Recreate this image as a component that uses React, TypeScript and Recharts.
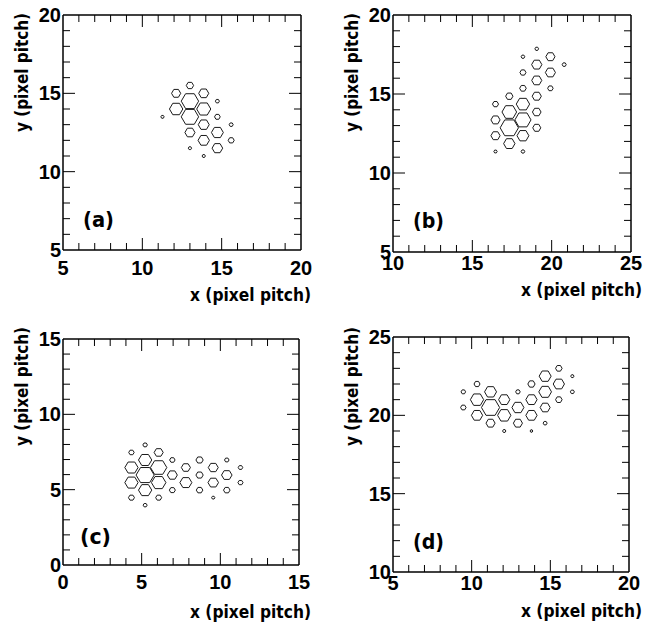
import React from 'react';
import { ScatterChart, Scatter, XAxis, YAxis, Customized } from 'recharts';

// ---- Panel (a): pixel centres (x, y) and relative charge (hexagon size)
const aX = [11.27, 12.13, 12.13, 13.0, 13.0, 13.0, 13.0, 13.0, 13.87, 13.87, 13.87, 13.87, 13.87, 14.73, 14.73, 14.73, 14.73, 15.6, 15.6];
const aY = [13.5, 15, 14, 15.5, 14.5, 13.5, 12.5, 11.5, 15, 14, 13, 12, 11, 14.5, 13.5, 12.5, 11.5, 13, 12];
const aQ = [0.18, 0.5, 0.73, 0.4, 0.95, 0.95, 0.55, 0.18, 0.55, 0.77, 0.6, 0.62, 0.18, 0.22, 0.31, 0.65, 0.58, 0.22, 0.33];

// ---- Panel (b)
const bX = [16.46, 16.46, 16.46, 16.46, 17.33, 17.33, 17.33, 17.33, 18.19, 18.19, 18.19, 18.19, 18.19, 18.19, 18.19, 19.06, 19.06, 19.06, 19.06, 19.06, 19.06, 19.92, 19.92, 19.92, 20.79];
const bY = [11.36, 12.36, 13.36, 14.36, 11.86, 12.86, 13.86, 14.86, 11.36, 12.36, 13.36, 14.36, 15.36, 16.36, 17.36, 12.86, 13.86, 14.86, 15.86, 16.86, 17.86, 15.36, 16.36, 17.36, 16.86];
const bQ = [0.18, 0.5, 0.5, 0.33, 0.62, 1.0, 0.8, 0.4, 0.2, 0.65, 0.88, 0.73, 0.36, 0.33, 0.2, 0.44, 0.47, 0.5, 0.55, 0.56, 0.2, 0.3, 0.55, 0.5, 0.22];

// ---- Panel (c)
const cX = [4.35, 4.35, 4.35, 4.35, 5.22, 5.22, 5.22, 5.22, 5.22, 6.08, 6.08, 6.08, 6.08, 6.95, 6.95, 6.95, 7.81, 7.81, 8.68, 8.68, 8.68, 9.55, 9.55, 9.55, 10.41, 10.41, 10.41, 11.28, 11.28];
const cY = [7.47, 6.47, 5.47, 4.47, 7.97, 6.97, 5.97, 4.97, 3.97, 7.47, 6.47, 5.47, 4.47, 6.97, 5.97, 4.97, 6.47, 5.47, 6.97, 5.97, 4.97, 6.47, 5.47, 4.47, 6.97, 5.97, 4.97, 6.47, 5.47];
const cQ = [0.3, 0.73, 0.73, 0.33, 0.25, 0.73, 1.0, 0.73, 0.22, 0.5, 0.9, 0.8, 0.33, 0.3, 0.55, 0.33, 0.5, 0.66, 0.4, 0.4, 0.36, 0.55, 0.58, 0.18, 0.25, 0.58, 0.36, 0.25, 0.28];

// ---- Panel (d)
const dX = [9.47, 9.47, 10.34, 10.34, 10.34, 11.2, 11.2, 11.2, 12.07, 12.07, 12.07, 12.94, 12.94, 12.94, 13.8, 13.8, 13.8, 13.8, 14.67, 14.67, 14.67, 14.67, 15.54, 15.54, 15.54, 16.4, 16.4];
const dY = [21.5, 20.5, 22, 21, 20, 21.5, 20.5, 19.5, 21, 20, 19, 21.5, 20.5, 19.5, 22, 21, 20, 19, 22.5, 21.5, 20.5, 19.5, 23, 22, 21, 22.5, 21.5];
const dQ = [0.25, 0.3, 0.33, 0.73, 0.62, 0.66, 1.0, 0.5, 0.62, 0.73, 0.18, 0.25, 0.66, 0.5, 0.4, 0.62, 0.62, 0.15, 0.66, 0.7, 0.55, 0.22, 0.36, 0.62, 0.36, 0.18, 0.22];

const aDomX = [5, 20];
const aDomY = [5, 20];
const bDomX = [10, 25];
const bDomY = [5, 20];
const cDomX = [0, 15];
const cDomY = [0, 15];
const dDomX = [5, 20];
const dDomY = [10, 25];

const letters = ['(a)', '(b)', '(c)', '(d)'];
const xTitle = 'x (pixel pitch)';
const yTitle = 'y (pixel pitch)';

const build = (xs: number[], ys: number[], qs: number[]) => xs.map((x, i) => ({ x, y: ys[i], q: qs[i] }));
const intTicks = (d: number[]) => {
  const out: number[] = [];
  for (let v = d[0]; v <= d[1]; v++) out.push(v);
  return out;
};

const TICK_FONT = "'Liberation Sans', Arial, Helvetica, sans-serif";
const TITLE_FONT = "'DejaVu Sans', Verdana, sans-serif";

type Panel = {
  data: { x: number; y: number; q: number }[];
  domX: number[];
  domY: number[];
  letter: string;
  left: number;
  top: number;
  width: number;
  height: number;
  margin: { top: number; right: number; bottom: number; left: number };
  labelDy: number;
  titleDx: number;
  titleDy: number;
  yTitleDy: number;
  letterDx: number;
  letterDy: number;
};

const panels: Panel[] = [
  { data: build(aX, aY, aQ), domX: aDomX, domY: aDomY, letter: letters[0], left: 0, top: 0, width: 330, height: 312,
    margin: { top: 15, right: 29, bottom: 62, left: 63 }, labelDy: 25, titleDx: 10, titleDy: 51, yTitleDy: -2, letterDx: 20, letterDy: -23 },
  { data: build(bX, bY, bQ), domX: bDomX, domY: bDomY, letter: letters[1], left: 330, top: 0, width: 321, height: 312,
    margin: { top: 15, right: 20, bottom: 60, left: 63 }, labelDy: 18, titleDx: 11, titleDy: 44, yTitleDy: -2, letterDx: 20, letterDy: -24 },
  { data: build(cX, cY, cQ), domX: cDomX, domY: cDomY, letter: letters[2], left: 0, top: 314, width: 330, height: 310,
    margin: { top: 25, right: 31, bottom: 59, left: 63 }, labelDy: 24, titleDx: 12, titleDy: 53, yTitleDy: -12, letterDx: 17, letterDy: -21 },
  { data: build(dX, dY, dQ), domX: dDomX, domY: dDomY, letter: letters[3], left: 330, top: 314, width: 321, height: 310,
    margin: { top: 23, right: 22, bottom: 52, left: 63 }, labelDy: 18, titleDx: 13, titleDy: 45, yTitleDy: -10, letterDx: 20, letterDy: -23 },
];

const PanelChart = ({ p }: { p: Panel }) => {
  const plotL = p.margin.left;
  const plotR = p.width - p.margin.right;
  const plotT = p.margin.top;
  const plotB = p.height - p.margin.bottom;
  const ppuX = (plotR - plotL) / (p.domX[1] - p.domX[0]);
  const ppuY = (plotB - plotT) / (p.domY[1] - p.domY[0]);
  const RX = ppuX / Math.sqrt(3);
  const RY = ppuY / 2;
  // each axis occupies 1px, so the chart margin is the plot box minus that
  const chartMargin = {
    top: p.margin.top - 1,
    right: p.margin.right - 1,
    bottom: p.margin.bottom - 1,
    left: p.margin.left - 1,
  };

  const hexShape = (props: any) => {
    const { cx, cy, payload } = props;
    if (cx == null || cy == null) return <g />;
    const a = payload.q * RX;
    const h = payload.q * RY;
    const pts = [
      [cx + a, cy], [cx + a / 2, cy - h], [cx - a / 2, cy - h],
      [cx - a, cy], [cx - a / 2, cy + h], [cx + a / 2, cy + h],
    ].map((v) => v.join(',')).join(' ');
    return <polygon points={pts} fill="none" stroke="#1a1a1a" strokeWidth={1} />;
  };

  const bottomTick = (props: any) => {
    const { x, payload } = props;
    const v = payload.value;
    const major = v % 5 === 0;
    const len = major ? 12 : 7;
    const label = String(v);
    return (
      <g>
        {v !== p.domX[0] && v !== p.domX[1] && (
          <line x1={x} x2={x} y1={plotB} y2={plotB - len} stroke="#000" strokeWidth={1} />
        )}
        {major && (
          <text x={x} y={plotB + p.labelDy} textAnchor="middle" fontFamily={TICK_FONT} fontWeight="bold" fontSize={20}
            fill="#000">{label}</text>
        )}
      </g>
    );
  };
  const topTick = (props: any) => {
    const { x, payload } = props;
    const v = payload.value;
    const len = v % 5 === 0 ? 12 : 7;
    if (v === p.domX[0] || v === p.domX[1]) return <g />;
    return <line x1={x} x2={x} y1={plotT} y2={plotT + len} stroke="#000" strokeWidth={1} />;
  };
  const leftTick = (props: any) => {
    const { y, payload } = props;
    const v = payload.value;
    const major = v % 5 === 0;
    const len = major ? 12 : 7;
    const label = String(v);
    return (
      <g>
        {v !== p.domY[0] && v !== p.domY[1] && (
          <line x1={plotL} x2={plotL + len} y1={y} y2={y} stroke="#000" strokeWidth={1} />
        )}
        {major && (
          <text x={plotL - 2} y={y + 7} textAnchor="end" fontFamily={TICK_FONT} fontWeight="bold" fontSize={20}
            fill="#000">{label}</text>
        )}
      </g>
    );
  };
  const rightTick = (props: any) => {
    const { y, payload } = props;
    const v = payload.value;
    const len = v % 5 === 0 ? 12 : 7;
    if (v === p.domY[0] || v === p.domY[1]) return <g />;
    return <line x1={plotR} x2={plotR - len} y1={y} y2={y} stroke="#000" strokeWidth={1} />;
  };

  const texts = () => (
    <g>
      <text x={plotR + p.titleDx} y={plotB + p.titleDy} textAnchor="end" fontFamily={TITLE_FONT} fontWeight="bold"
        fontSize={17} fill="#000" textLength={121} lengthAdjust="spacingAndGlyphs">{xTitle}</text>
      <text x={plotL - 35} y={plotT + p.yTitleDy} textAnchor="end" fontFamily={TITLE_FONT} fontWeight="bold"
        fontSize={17} fill="#000" textLength={119} lengthAdjust="spacingAndGlyphs"
        transform={`rotate(-90, ${plotL - 35}, ${plotT + p.yTitleDy})`}>{yTitle}</text>
      <text x={plotL + p.letterDx} y={plotB + p.letterDy} fontFamily={TITLE_FONT} fontWeight="bold" fontSize={21}
        fill="#000" textLength={31} lengthAdjust="spacingAndGlyphs">{p.letter}</text>
    </g>
  );

  const ticksX = intTicks(p.domX);
  const ticksY = intTicks(p.domY);
  const axisLine = { stroke: '#000', strokeWidth: 1.5 };

  return (
    <div style={{ position: 'absolute', left: p.left, top: p.top }}>
      <ScatterChart width={p.width} height={p.height} margin={chartMargin}>
        <XAxis xAxisId="b" dataKey="x" type="number" domain={p.domX} ticks={ticksX} interval={0} height={1}
          allowDataOverflow axisLine={axisLine} tickLine={false} tick={bottomTick} />
        <XAxis xAxisId="t" orientation="top" dataKey="x" type="number" domain={p.domX} ticks={ticksX} interval={0}
          height={1} allowDataOverflow axisLine={axisLine} tickLine={false} tick={topTick} />
        <YAxis yAxisId="l" dataKey="y" type="number" domain={p.domY} ticks={ticksY} interval={0} width={1}
          allowDataOverflow axisLine={axisLine} tickLine={false} tick={leftTick} />
        <YAxis yAxisId="r" orientation="right" dataKey="y" type="number" domain={p.domY} ticks={ticksY} interval={0}
          width={1} allowDataOverflow axisLine={axisLine} tickLine={false} tick={rightTick} />
        <Scatter data={p.data} xAxisId="b" yAxisId="l" shape={hexShape} isAnimationActive={false} />
        <Customized component={texts} />
      </ScatterChart>
    </div>
  );
}

export default function App() {
  return (
    <div style={{ position: 'absolute', left: 0, top: 0, width: 651, height: 624, background: '#fff' }}>
      {panels.map((p, i) => (
        <PanelChart key={i} p={p} />
      ))}
    </div>
  );
}
